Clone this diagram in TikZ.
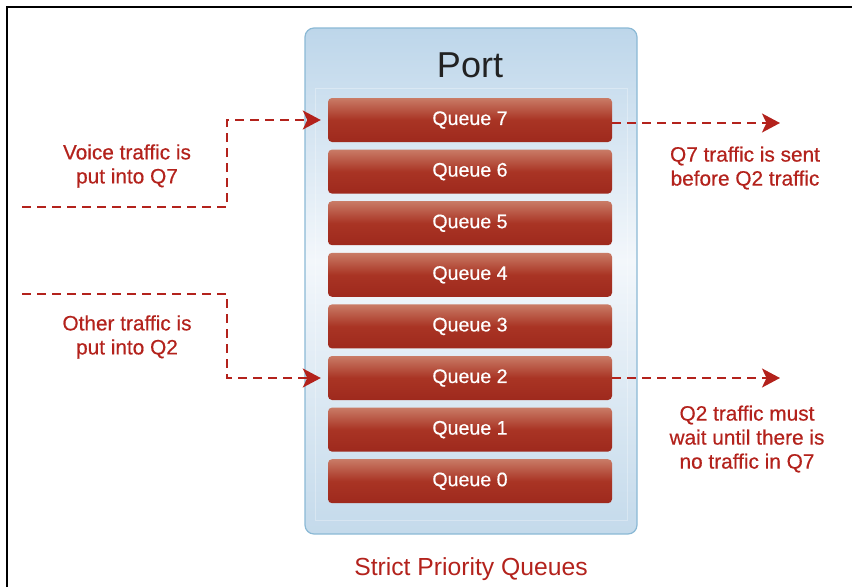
\documentclass[tikz,border=0pt]{standalone}
\usepackage{fontspec}
\setmainfont{Liberation Sans}[BoldFont={Liberation Sans},BoldFeatures={FakeBold=0.5}]
\usetikzlibrary{arrows.meta}
\definecolor{tred}{HTML}{B3221C}
\definecolor{qtop}{HTML}{C97B66}
\definecolor{qmid}{HTML}{A93424}
\definecolor{qbot}{HTML}{9E291D}
\definecolor{ptop}{HTML}{BDD6EA}
\definecolor{pmid}{HTML}{F3F7FB}
\definecolor{pbot}{HTML}{C4DAEB}
\definecolor{pedge}{HTML}{8BB9D5}
\definecolor{porttext}{HTML}{222222}
\pgfdeclareverticalshading{queueshade}{100bp}{color(0bp)=(qbot); color(25bp)=(qbot); color(50bp)=(qmid); color(75bp)=(qtop); color(100bp)=(qtop)}
\pgfdeclareverticalshading{portshade}{100bp}{color(0bp)=(pbot); color(25bp)=(pbot); color(52bp)=(pmid); color(75bp)=(ptop); color(100bp)=(ptop)}
\tikzset{
  queuebox/.style={minimum width=284pt, minimum height=44pt, inner sep=0pt,
    rounded corners=4pt, shading=queueshade, text=white,
    font=\fontsize{19.6}{21}\selectfont\bfseries},
  flow/.style={draw=tred, line width=2pt, dash pattern=on 9pt off 6pt},
  flowarrow/.style={flow, -{Stealth[length=18pt,width=19pt,inset=4.5pt]}},
  note/.style={text=tred, align=center, font=\fontsize{20.8}{24}\selectfont\bfseries}
}
\begin{document}
\begin{tikzpicture}[x=1pt,y=-1pt]
\useasboundingbox (0,0) rectangle (852,587);
% frame lines
\draw[line width=1.8pt] (7,587) -- (7,7) -- (852,7);
% port box
\node[draw=pedge, line width=1.2pt, rounded corners=9pt, shading=portshade,
  minimum width=332pt, minimum height=506pt, inner sep=0pt] (port) at (471,281) {};
\node[draw=white, opacity=0.3, line width=0.5pt, minimum width=312pt, minimum height=432pt,
  inner sep=0pt] (inner) at (471,304) {};
\node[text=porttext, font=\fontsize{36}{40}\selectfont] (porttitle) at (470,65) {Port};
% queues
\foreach \i [evaluate=\i as \yy using 120+(7-\i)*51.6] in {7,6,...,0}{
  \node[queuebox] (q\i) at (470,\yy) {Queue \i};
}
% left flows
\coordinate (vin) at (22,207);
\coordinate (oin) at (22,294);
\draw[flowarrow, shorten >=7pt] (vin) -- (227,207) |- (q7.west);
\draw[flowarrow, shorten >=7pt] (oin) -- (227,294) |- (q2.west);
% right flows
\coordinate (vout) at (780,123);
\coordinate (oout) at (780,378);
\draw[flowarrow] (q7.east |- vout) -- (vout);
\draw[flowarrow] (q2.east |- oout) -- (oout);
% notes
\node[note] (n1) at (127,166) {Voice traffic is\\put into Q7};
\node[note] (n2) at (127,337) {Other traffic is\\put into Q2};
\node[note] (n3) at (745,168) {Q7 traffic is sent\\before Q2 traffic};
\node[note] (n4) at (747,439) {Q2 traffic must\\wait until there is\\no traffic in Q7};
\node[text=tred, font=\fontsize{24.7}{28}\selectfont] (cap) at (471,569) {Strict Priority Queues};
\end{tikzpicture}
\end{document}
